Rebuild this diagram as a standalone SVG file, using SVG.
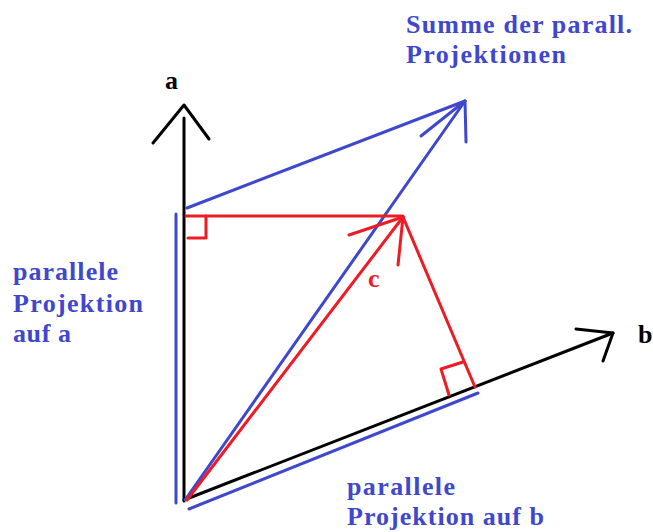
<svg xmlns="http://www.w3.org/2000/svg" width="653" height="532" viewBox="0 0 653 532">
<style>
.k{stroke:#000;stroke-width:3;fill:none;stroke-linecap:round;stroke-linejoin:round}
.bl{stroke:#3F48CC;stroke-width:3;fill:none;stroke-linecap:round;stroke-linejoin:round}
.rd{stroke:#ED1C24;stroke-width:3;fill:none;stroke-linecap:round;stroke-linejoin:round}
text{font-family:"Liberation Serif","Times New Roman",serif;font-weight:bold;font-size:26px}
.tb{fill:#3F48CC}
</style>
<rect width="653" height="532" fill="#fff"/>
<g id="connectors">
  <g id="axis-a">
    <line class="k" x1="184" y1="501" x2="184" y2="118"/>
    <polyline class="k" points="153,143 184,105 209,139"/>
  </g>
  <g id="axis-b">
    <line class="k" x1="184" y1="500" x2="613" y2="333"/>
    <polyline class="k" points="576,329 613,333 603,361"/>
  </g>
  <g id="blue-proj">
    <line class="bl" x1="176" y1="214" x2="176" y2="503"/>
    <line class="bl" x1="189" y1="509" x2="478" y2="393"/>
    <line class="bl" x1="187" y1="208" x2="465" y2="101"/>
    <line class="bl" x1="185" y1="500" x2="465" y2="101"/>
    <polyline class="bl" points="421,136 465,101 466,142"/>
  </g>
  <g id="red-c">
    <line class="rd" x1="187" y1="500" x2="403" y2="217"/>
    <polyline class="rd" points="349,235 403,217 398,265"/>
    <line class="rd" x1="186" y1="216" x2="403" y2="216"/>
    <polyline class="rd" points="206,216 206,238 188,238"/>
    <line class="rd" x1="403" y1="217" x2="475" y2="387"/>
    <polyline class="rd" points="463,362 441,369 449,395"/>
  </g>
</g>
<g id="label-a"><text x="165" y="89" textLength="13">a</text></g>
<g id="label-b"><text x="638" y="343">b</text></g>
<g id="label-c"><text x="368" y="287" fill="#ED1C24">c</text></g>
<g id="label-sum">
  <text class="tb" x="406" y="33" textLength="226" lengthAdjust="spacing">Summe der parall.</text>
  <text class="tb" x="406" y="63" textLength="160" lengthAdjust="spacing">Projektionen</text>
</g>
<g id="label-proj-a">
  <text class="tb" x="13" y="280" textLength="105" lengthAdjust="spacing">parallele</text>
  <text class="tb" x="13" y="312" textLength="130" lengthAdjust="spacing">Projektion</text>
  <text class="tb" x="13" y="342" textLength="58" lengthAdjust="spacing">auf a</text>
</g>
<g id="label-proj-b">
  <text class="tb" x="347" y="495" textLength="108" lengthAdjust="spacing">parallele</text>
  <text class="tb" x="347" y="525" textLength="197" lengthAdjust="spacing">Projektion auf b</text>
</g>
</svg>
